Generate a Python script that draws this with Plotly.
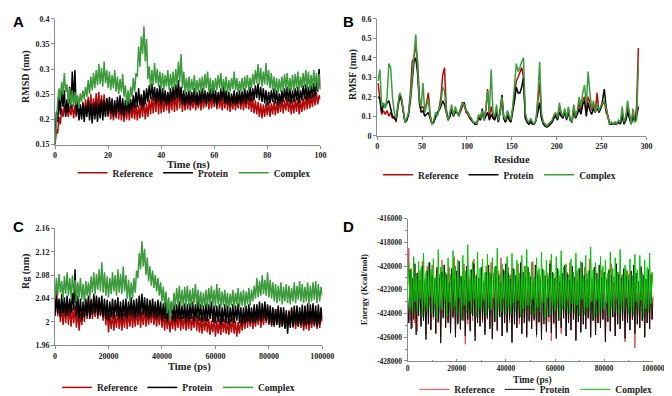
import plotly.graph_objects as go

W, H = 672, 396
SERIF = "Liberation Serif, Times New Roman, serif"
SANS = "Liberation Sans, Arial, sans-serif"

# ---------------- Panel A : RMSD (nm) vs time (ns), sampled every 0.5 ns ----------------
rmsd_time = [0.5 * i for i in range(201)]
rmsd_reference = [
    0.150, 0.180, 0.172, 0.205, 0.190, 0.222, 0.205, 0.228, 0.208, 0.225,
    0.205, 0.225, 0.208, 0.230, 0.202, 0.228, 0.205, 0.232, 0.200, 0.228,
    0.205, 0.235, 0.208, 0.240, 0.212, 0.245, 0.215, 0.250, 0.210, 0.242,
    0.215, 0.252, 0.218, 0.255, 0.212, 0.248, 0.215, 0.250, 0.208, 0.242,
    0.205, 0.238, 0.200, 0.232, 0.198, 0.228, 0.202, 0.235, 0.200, 0.230,
    0.198, 0.228, 0.195, 0.225, 0.200, 0.230, 0.198, 0.228, 0.202, 0.232,
    0.200, 0.230, 0.198, 0.228, 0.202, 0.235, 0.205, 0.238, 0.200, 0.232,
    0.205, 0.240, 0.210, 0.245, 0.212, 0.250, 0.215, 0.255, 0.210, 0.248,
    0.212, 0.245, 0.215, 0.250, 0.218, 0.252, 0.212, 0.245, 0.218, 0.255,
    0.215, 0.250, 0.218, 0.262, 0.222, 0.258, 0.215, 0.248, 0.218, 0.245,
    0.220, 0.248, 0.218, 0.245, 0.222, 0.250, 0.218, 0.245, 0.222, 0.248,
    0.218, 0.245, 0.222, 0.250, 0.225, 0.252, 0.220, 0.248, 0.222, 0.250,
    0.225, 0.250, 0.220, 0.248, 0.222, 0.245, 0.218, 0.248, 0.222, 0.252,
    0.218, 0.245, 0.215, 0.242, 0.220, 0.248, 0.218, 0.245, 0.222, 0.250,
    0.220, 0.248, 0.218, 0.245, 0.222, 0.250, 0.220, 0.245, 0.215, 0.242,
    0.212, 0.238, 0.210, 0.235, 0.205, 0.232, 0.202, 0.230, 0.205, 0.232,
    0.208, 0.235, 0.205, 0.232, 0.210, 0.238, 0.208, 0.235, 0.212, 0.240,
    0.215, 0.242, 0.212, 0.238, 0.218, 0.245, 0.215, 0.240, 0.210, 0.238,
    0.212, 0.240, 0.215, 0.245, 0.210, 0.238, 0.215, 0.242, 0.218, 0.248,
    0.220, 0.250, 0.222, 0.248, 0.225, 0.252, 0.228, 0.255, 0.230, 0.248,
    0.240]
rmsd_protein = [
    0.150, 0.215, 0.195, 0.245, 0.210, 0.262, 0.225, 0.258, 0.205, 0.240,
    0.215, 0.265, 0.222, 0.295, 0.232, 0.298, 0.210, 0.245, 0.198, 0.230,
    0.200, 0.232, 0.195, 0.228, 0.205, 0.238, 0.198, 0.230, 0.192, 0.232,
    0.200, 0.235, 0.195, 0.232, 0.202, 0.240, 0.198, 0.238, 0.205, 0.242,
    0.208, 0.245, 0.212, 0.242, 0.205, 0.238, 0.210, 0.245, 0.215, 0.248,
    0.210, 0.242, 0.205, 0.238, 0.215, 0.245, 0.212, 0.240, 0.218, 0.248,
    0.222, 0.255, 0.225, 0.262, 0.228, 0.250, 0.222, 0.258, 0.230, 0.262,
    0.235, 0.268, 0.240, 0.272, 0.238, 0.265, 0.232, 0.262, 0.235, 0.268,
    0.230, 0.262, 0.235, 0.258, 0.228, 0.255, 0.232, 0.262, 0.235, 0.265,
    0.238, 0.270, 0.242, 0.278, 0.238, 0.265, 0.230, 0.258, 0.228, 0.255,
    0.232, 0.258, 0.228, 0.255, 0.235, 0.262, 0.230, 0.255, 0.228, 0.258,
    0.232, 0.262, 0.235, 0.258, 0.230, 0.255, 0.235, 0.262, 0.238, 0.265,
    0.232, 0.258, 0.228, 0.255, 0.235, 0.262, 0.238, 0.268, 0.232, 0.258,
    0.230, 0.255, 0.228, 0.252, 0.232, 0.258, 0.228, 0.255, 0.232, 0.258,
    0.230, 0.256, 0.235, 0.262, 0.232, 0.258, 0.238, 0.265, 0.235, 0.262,
    0.238, 0.268, 0.242, 0.272, 0.238, 0.265, 0.235, 0.262, 0.232, 0.258,
    0.228, 0.255, 0.232, 0.258, 0.235, 0.262, 0.232, 0.258, 0.228, 0.252,
    0.232, 0.258, 0.235, 0.262, 0.238, 0.265, 0.235, 0.262, 0.232, 0.258,
    0.235, 0.262, 0.238, 0.265, 0.232, 0.258, 0.238, 0.268, 0.240, 0.270,
    0.238, 0.265, 0.240, 0.268, 0.242, 0.272, 0.245, 0.275, 0.255, 0.300,
    0.260]
rmsd_complex = [
    0.150, 0.205, 0.235, 0.262, 0.238, 0.275, 0.250, 0.292, 0.255, 0.270,
    0.232, 0.262, 0.228, 0.258, 0.225, 0.255, 0.230, 0.248, 0.222, 0.252,
    0.235, 0.258, 0.240, 0.265, 0.245, 0.278, 0.250, 0.285, 0.258, 0.292,
    0.262, 0.298, 0.268, 0.310, 0.270, 0.302, 0.265, 0.315, 0.272, 0.298,
    0.262, 0.295, 0.258, 0.288, 0.262, 0.298, 0.255, 0.285, 0.250, 0.280,
    0.255, 0.290, 0.245, 0.268, 0.228, 0.258, 0.232, 0.265, 0.245, 0.282,
    0.255, 0.292, 0.285, 0.345, 0.305, 0.365, 0.330, 0.385, 0.315, 0.360,
    0.280, 0.305, 0.262, 0.298, 0.268, 0.312, 0.272, 0.300, 0.265, 0.295,
    0.262, 0.292, 0.258, 0.288, 0.265, 0.298, 0.258, 0.290, 0.262, 0.295,
    0.260, 0.300, 0.268, 0.315, 0.275, 0.330, 0.262, 0.295, 0.252, 0.282,
    0.255, 0.285, 0.252, 0.280, 0.258, 0.288, 0.250, 0.278, 0.255, 0.282,
    0.258, 0.285, 0.252, 0.290, 0.262, 0.295, 0.255, 0.282, 0.250, 0.278,
    0.255, 0.282, 0.258, 0.288, 0.262, 0.292, 0.255, 0.280, 0.258, 0.285,
    0.252, 0.278, 0.255, 0.282, 0.260, 0.295, 0.258, 0.282, 0.252, 0.276,
    0.256, 0.282, 0.255, 0.285, 0.262, 0.288, 0.258, 0.282, 0.262, 0.290,
    0.268, 0.298, 0.272, 0.310, 0.270, 0.302, 0.265, 0.295, 0.270, 0.312,
    0.268, 0.298, 0.262, 0.292, 0.258, 0.285, 0.255, 0.282, 0.252, 0.280,
    0.255, 0.285, 0.258, 0.290, 0.262, 0.292, 0.255, 0.282, 0.258, 0.288,
    0.258, 0.290, 0.262, 0.295, 0.255, 0.285, 0.262, 0.292, 0.265, 0.298,
    0.262, 0.295, 0.258, 0.288, 0.262, 0.298, 0.265, 0.292, 0.258, 0.290,
    0.268]

# ---------------- Panel B : RMSF (nm) vs residue (every 2nd residue) ----------------
residues = list(range(1, 292, 2))
rmsf_reference = [
    0.27, 0.20, 0.11, 0.13, 0.11, 0.13, 0.10, 0.12, 0.09, 0.10,
    0.07, 0.14, 0.20, 0.18, 0.12, 0.07, 0.08, 0.12, 0.22, 0.38,
    0.40, 0.47, 0.38, 0.20, 0.14, 0.15, 0.12, 0.18, 0.22, 0.11,
    0.06, 0.07, 0.10, 0.11, 0.14, 0.20, 0.31, 0.35, 0.14, 0.08,
    0.10, 0.14, 0.10, 0.13, 0.12, 0.10, 0.13, 0.15, 0.16, 0.12,
    0.11, 0.09, 0.08, 0.07, 0.06, 0.06, 0.10, 0.08, 0.12, 0.08,
    0.13, 0.24, 0.10, 0.15, 0.10, 0.09, 0.13, 0.08, 0.12, 0.18,
    0.09, 0.07, 0.12, 0.09, 0.08, 0.14, 0.22, 0.28, 0.30, 0.33,
    0.35, 0.30, 0.10, 0.07, 0.06, 0.08, 0.06, 0.06, 0.08, 0.18,
    0.27, 0.10, 0.07, 0.06, 0.05, 0.06, 0.07, 0.08, 0.10, 0.11,
    0.09, 0.15, 0.11, 0.10, 0.13, 0.09, 0.14, 0.08, 0.07, 0.15,
    0.10, 0.12, 0.17, 0.13, 0.18, 0.20, 0.13, 0.20, 0.17, 0.13,
    0.16, 0.12, 0.22, 0.12, 0.14, 0.16, 0.18, 0.12, 0.10, 0.06,
    0.06, 0.06, 0.07, 0.06, 0.07, 0.07, 0.12, 0.06, 0.09, 0.15,
    0.10, 0.06, 0.12, 0.07, 0.15, 0.45]
rmsf_protein = [
    0.20, 0.19, 0.12, 0.16, 0.15, 0.17, 0.18, 0.14, 0.10, 0.09,
    0.08, 0.15, 0.21, 0.19, 0.12, 0.07, 0.08, 0.11, 0.18, 0.30,
    0.38, 0.40, 0.32, 0.17, 0.12, 0.13, 0.10, 0.11, 0.12, 0.09,
    0.06, 0.07, 0.10, 0.12, 0.13, 0.15, 0.18, 0.16, 0.12, 0.08,
    0.10, 0.13, 0.10, 0.12, 0.12, 0.11, 0.14, 0.17, 0.17, 0.13,
    0.12, 0.10, 0.08, 0.07, 0.06, 0.06, 0.10, 0.08, 0.14, 0.08,
    0.10, 0.12, 0.08, 0.11, 0.09, 0.08, 0.12, 0.07, 0.13, 0.21,
    0.09, 0.07, 0.10, 0.08, 0.07, 0.12, 0.18, 0.25, 0.22, 0.22,
    0.25, 0.30, 0.09, 0.07, 0.06, 0.07, 0.06, 0.06, 0.08, 0.12,
    0.17, 0.09, 0.06, 0.05, 0.045, 0.05, 0.06, 0.07, 0.09, 0.10,
    0.08, 0.12, 0.10, 0.09, 0.12, 0.08, 0.12, 0.08, 0.07, 0.13,
    0.09, 0.11, 0.14, 0.11, 0.16, 0.18, 0.10, 0.17, 0.13, 0.11,
    0.14, 0.12, 0.15, 0.12, 0.14, 0.18, 0.24, 0.15, 0.10, 0.06,
    0.06, 0.06, 0.06, 0.06, 0.07, 0.06, 0.10, 0.06, 0.08, 0.12,
    0.09, 0.06, 0.10, 0.07, 0.10, 0.15]
rmsf_complex = [
    0.28, 0.34, 0.15, 0.17, 0.14, 0.20, 0.37, 0.35, 0.20, 0.12,
    0.09, 0.15, 0.22, 0.20, 0.13, 0.07, 0.09, 0.12, 0.20, 0.30,
    0.40, 0.52, 0.35, 0.18, 0.15, 0.27, 0.12, 0.15, 0.19, 0.10,
    0.06, 0.08, 0.12, 0.10, 0.14, 0.17, 0.25, 0.23, 0.12, 0.08,
    0.12, 0.16, 0.10, 0.15, 0.12, 0.10, 0.14, 0.17, 0.16, 0.13,
    0.12, 0.10, 0.09, 0.07, 0.07, 0.06, 0.11, 0.09, 0.13, 0.08,
    0.14, 0.23, 0.12, 0.34, 0.12, 0.10, 0.16, 0.08, 0.12, 0.20,
    0.10, 0.08, 0.13, 0.10, 0.08, 0.15, 0.25, 0.37, 0.33, 0.35,
    0.38, 0.40, 0.12, 0.08, 0.07, 0.09, 0.07, 0.06, 0.08, 0.20,
    0.38, 0.12, 0.07, 0.06, 0.05, 0.06, 0.07, 0.08, 0.11, 0.12,
    0.09, 0.17, 0.12, 0.10, 0.14, 0.09, 0.15, 0.08, 0.07, 0.16,
    0.10, 0.13, 0.20, 0.15, 0.22, 0.26, 0.16, 0.33, 0.22, 0.14,
    0.18, 0.12, 0.16, 0.13, 0.15, 0.17, 0.18, 0.13, 0.10, 0.06,
    0.07, 0.06, 0.07, 0.06, 0.08, 0.07, 0.15, 0.07, 0.10, 0.18,
    0.11, 0.06, 0.14, 0.07, 0.08, 0.36]

# ---------------- Panel C : Rg (nm) vs time (ps), sampled every 500 ps ----------------
rg_time = [500 * i for i in range(201)]
rg_reference = [
    2.015, 2.055, 2.010, 2.035, 2.000, 2.030, 1.995, 2.028, 1.998, 2.032,
    1.995, 2.030, 1.992, 2.025, 1.998, 2.028, 1.990, 2.022, 1.985, 2.015,
    1.995, 2.028, 2.000, 2.035, 2.005, 2.038, 2.008, 2.040, 2.005, 2.035,
    2.008, 2.040, 2.005, 2.038, 2.010, 2.035, 2.002, 2.030, 1.995, 2.025,
    1.982, 2.015, 1.988, 2.018, 1.985, 2.012, 1.990, 2.020, 1.988, 2.015,
    1.985, 2.015, 1.990, 2.020, 1.988, 2.018, 1.992, 2.022, 1.990, 2.018,
    1.992, 2.020, 1.995, 2.022, 1.990, 2.018, 1.995, 2.025, 1.992, 2.020,
    1.995, 2.022, 1.998, 2.025, 1.995, 2.020, 1.992, 2.018, 1.995, 2.022,
    1.990, 2.018, 1.985, 2.015, 1.988, 2.012, 1.982, 2.010, 1.988, 2.015,
    1.985, 2.012, 1.990, 2.018, 1.985, 2.010, 1.988, 2.015, 1.985, 2.012,
    1.988, 2.015, 1.985, 2.010, 1.990, 2.018, 1.985, 2.012, 1.982, 2.008,
    1.980, 2.008, 1.985, 2.010, 1.982, 2.005, 1.978, 2.002, 1.982, 2.008,
    1.975, 2.002, 1.980, 2.005, 1.978, 2.008, 1.982, 2.005, 1.980, 2.002,
    1.978, 2.005, 1.982, 2.008, 1.980, 2.002, 1.975, 2.000, 1.980, 2.005,
    1.985, 2.010, 1.988, 2.015, 1.990, 2.018, 1.992, 2.015, 1.988, 2.012,
    1.992, 2.018, 1.995, 2.022, 1.990, 2.015, 1.995, 2.020, 1.998, 2.025,
    1.995, 2.020, 1.992, 2.018, 1.995, 2.022, 1.998, 2.025, 1.995, 2.020,
    1.992, 2.018, 1.990, 2.015, 1.992, 2.020, 1.995, 2.022, 1.990, 2.018,
    1.988, 2.015, 1.992, 2.018, 1.990, 2.015, 1.985, 2.012, 1.988, 2.015,
    1.985, 2.012, 1.990, 2.015, 1.992, 2.018, 1.988, 2.015, 1.990, 2.012,
    2.000]
rg_protein = [
    2.010, 2.045, 2.015, 2.040, 2.008, 2.048, 2.015, 2.042, 2.010, 2.045,
    2.012, 2.040, 2.015, 2.050, 2.020, 2.090, 2.010, 2.045, 2.005, 2.040,
    2.002, 2.035, 2.008, 2.040, 2.010, 2.045, 2.005, 2.038, 2.012, 2.048,
    2.015, 2.045, 2.010, 2.042, 2.012, 2.045, 2.008, 2.040, 2.005, 2.038,
    2.002, 2.035, 2.008, 2.040, 2.005, 2.038, 2.010, 2.042, 2.005, 2.035,
    2.002, 2.038, 2.008, 2.040, 2.005, 2.035, 2.010, 2.042, 2.008, 2.038,
    2.005, 2.040, 2.010, 2.045, 2.008, 2.048, 2.012, 2.042, 2.008, 2.040,
    2.005, 2.038, 2.010, 2.040, 2.008, 2.035, 2.005, 2.038, 2.008, 2.035,
    2.002, 2.032, 2.005, 2.038, 2.000, 2.030, 2.005, 2.035, 2.002, 2.030,
    2.000, 2.030, 2.005, 2.035, 2.002, 2.028, 2.005, 2.032, 2.000, 2.030,
    2.002, 2.032, 2.005, 2.035, 2.000, 2.030, 2.005, 2.038, 2.002, 2.030,
    2.000, 2.028, 2.002, 2.032, 2.000, 2.030, 2.005, 2.035, 2.000, 2.028,
    1.998, 2.028, 2.000, 2.030, 1.995, 2.025, 2.000, 2.030, 1.998, 2.028,
    1.995, 2.025, 2.000, 2.030, 1.998, 2.028, 2.002, 2.032, 1.998, 2.025,
    1.995, 2.025, 1.998, 2.028, 2.000, 2.030, 1.998, 2.025, 2.000, 2.030,
    1.998, 2.030, 2.002, 2.035, 2.000, 2.032, 2.005, 2.035, 2.002, 2.030,
    1.998, 2.028, 1.995, 2.025, 1.992, 2.022, 1.995, 2.028, 1.990, 2.025,
    1.992, 2.025, 1.988, 2.020, 1.980, 2.018, 1.990, 2.025, 1.992, 2.028,
    1.995, 2.028, 1.992, 2.025, 1.995, 2.030, 1.992, 2.028, 1.995, 2.032,
    1.995, 2.030, 1.998, 2.032, 1.995, 2.028, 1.992, 2.030, 1.995, 2.025,
    2.005]
rg_complex = [
    2.040, 2.075, 2.045, 2.082, 2.050, 2.070, 2.038, 2.078, 2.048, 2.085,
    2.045, 2.075, 2.040, 2.080, 2.050, 2.072, 2.035, 2.068, 2.042, 2.075,
    2.038, 2.065, 2.032, 2.070, 2.045, 2.068, 2.040, 2.078, 2.050, 2.085,
    2.048, 2.082, 2.055, 2.090, 2.052, 2.102, 2.050, 2.085, 2.045, 2.078,
    2.042, 2.075, 2.048, 2.085, 2.052, 2.080, 2.045, 2.090, 2.050, 2.082,
    2.048, 2.095, 2.052, 2.080, 2.040, 2.072, 2.035, 2.068, 2.040, 2.075,
    2.050, 2.088, 2.075, 2.118, 2.090, 2.138, 2.095, 2.125, 2.080, 2.110,
    2.070, 2.095, 2.062, 2.088, 2.058, 2.080, 2.052, 2.075, 2.045, 2.068,
    2.035, 2.060, 2.028, 2.052, 2.015, 2.042, 2.002, 2.035, 2.020, 2.050,
    2.025, 2.058, 2.030, 2.062, 2.028, 2.055, 2.025, 2.060, 2.030, 2.062,
    2.028, 2.055, 2.025, 2.058, 2.032, 2.065, 2.028, 2.055, 2.025, 2.052,
    2.022, 2.050, 2.028, 2.055, 2.025, 2.058, 2.030, 2.062, 2.028, 2.055,
    2.025, 2.065, 2.030, 2.058, 2.022, 2.052, 2.028, 2.055, 2.025, 2.050,
    2.022, 2.048, 2.028, 2.055, 2.025, 2.050, 2.030, 2.058, 2.025, 2.052,
    2.028, 2.055, 2.025, 2.052, 2.030, 2.058, 2.028, 2.055, 2.035, 2.062,
    2.040, 2.075, 2.042, 2.070, 2.045, 2.080, 2.048, 2.072, 2.045, 2.085,
    2.042, 2.072, 2.040, 2.068, 2.035, 2.065, 2.032, 2.062, 2.035, 2.068,
    2.030, 2.060, 2.035, 2.065, 2.032, 2.062, 2.030, 2.058, 2.035, 2.068,
    2.032, 2.062, 2.038, 2.070, 2.035, 2.065, 2.032, 2.060, 2.035, 2.068,
    2.030, 2.062, 2.035, 2.068, 2.038, 2.070, 2.032, 2.065, 2.035, 2.060,
    2.045]

# ---------------- Panel D : Energy (Kcal/mol) vs time (ps), sampled every 500 ps ----------------
energy_time = [500 * i for i in range(201)]
energy_reference = [
    -422000, -418500, -424600, -420200, -425200, -419800, -424800, -420600, -425500, -421000,
    -420400, -425000, -419600, -424400, -421100, -425800, -420000, -424700, -420800, -425300,
    -419900, -424500, -421000, -425600, -420300, -424800, -420700, -426000, -419500, -424300,
    -420600, -425100, -421200, -424600, -420100, -425700, -420900, -424400, -419200, -425900,
    -420800, -424700, -420200, -425400, -421300, -424500, -419800, -426600, -420400, -424900,
    -421000, -425300, -420500, -424600, -419400, -425800, -420700, -424400, -421100, -425000,
    -420300, -424800, -421300, -425600, -420000, -424500, -420900, -425200, -419700, -426200,
    -420600, -424700, -421000, -425500, -420400, -424300, -419300, -425900, -420800, -424600,
    -421200, -425400, -420100, -424800, -420700, -426500, -420300, -424500, -421000, -425200,
    -419800, -424900, -420600, -425700, -421200, -424400, -420000, -425800, -420500, -424700,
    -420900, -425300, -419600, -424600, -421100, -426000, -420400, -424800, -420800, -425500,
    -420200, -424500, -421300, -425600, -420600, -424700, -419500, -426300, -420900, -424900,
    -421000, -425200, -420300, -424600, -420800, -425700, -421200, -424400, -420000, -425900,
    -420500, -424800, -419700, -425400, -420900, -424500, -421100, -426100, -420400, -424700,
    -420800, -425500, -421300, -424900, -420100, -425300, -420600, -424400, -419400, -426000,
    -421000, -424600, -420200, -425800, -420700, -424800, -421200, -425200, -420300, -424500,
    -420600, -426200, -421000, -424700, -420400, -425500, -419800, -424300, -420900, -425900,
    -421200, -424900, -420500, -425300, -420800, -424600, -421100, -426400, -420300, -424800,
    -420700, -425400, -421000, -424500, -420200, -426900, -420600, -424900, -421300, -425200,
    -420000, -424600, -420800, -426000, -421100, -424800, -420300, -425300, -420700, -424500,
    -422400]
energy_protein = [
    -422500, -424800, -420300, -425300, -421000, -424500, -419800, -425800, -420600, -424200,
    -421200, -425100, -420000, -424600, -421500, -426200, -420400, -424900, -419700, -425400,
    -420800, -424300, -421300, -425700, -420100, -424700, -421000, -426500, -420500, -424400,
    -419900, -425200, -420700, -424800, -421400, -425600, -420200, -424300, -421100, -426000,
    -420400, -424900, -419600, -425300, -420900, -424600, -421200, -425900, -420000, -424500,
    -421300, -425500, -420300, -424200, -419800, -426300, -420800, -424800, -421000, -425100,
    -420100, -424600, -421500, -425800, -420500, -424400, -419900, -425300, -420700, -426100,
    -421200, -424700, -420000, -425400, -420900, -424300, -421400, -425900, -420300, -424800,
    -419800, -425600, -420600, -424500, -421100, -426400, -420200, -424900, -420800, -425200,
    -421300, -424400, -419700, -425700, -420500, -424800, -421000, -426000, -420100, -424600,
    -420900, -425300, -421400, -424500, -419900, -425800, -420700, -424700, -421200, -426200,
    -420300, -424900, -420800, -425500, -421100, -424300, -419800, -425600, -420500, -424800,
    -421000, -426100, -420200, -424600, -421300, -425200, -420600, -424400, -419900, -425900,
    -420700, -424800, -421200, -425400, -420000, -424500, -420900, -426300, -421400, -424700,
    -420200, -425600, -419700, -424900, -420800, -425300, -421100, -424400, -420400, -426000,
    -421300, -424600, -420100, -425800, -420600, -424800, -419900, -425200, -421000, -424500,
    -420500, -426400, -421200, -424700, -420300, -425500, -420800, -424300, -421400, -425900,
    -419800, -424900, -420700, -425300, -421000, -424600, -420200, -426100, -420900, -424800,
    -421200, -425400, -420400, -424500, -419900, -425700, -420600, -424900, -421300, -425200,
    -420100, -424600, -420800, -426000, -421100, -424800, -420300, -425300, -420700, -424500,
    -422600]
energy_complex = [
    -421500, -419800, -423600, -420400, -424100, -419200, -423000, -420800, -423900, -419600,
    -422800, -420200, -424300, -418900, -423400, -420600, -423800, -419700, -422600, -420300,
    -424000, -419400, -423200, -420900, -424400, -418600, -423500, -420100, -423700, -419900,
    -422900, -420500, -424200, -419300, -423100, -420700, -423800, -418700, -423400, -420000,
    -424100, -419500, -422700, -420800, -424500, -419100, -423300, -420400, -423900, -418200,
    -423000, -420300, -424000, -419600, -422800, -420900, -424300, -418800, -423600, -420200,
    -423800, -419400, -422900, -420600, -424200, -419000, -423500, -420500, -423700, -419300,
    -422700, -420100, -424400, -418500, -423200, -420700, -423900, -419800, -422800, -420400,
    -424100, -419200, -423400, -420800, -424000, -418900, -423100, -420300, -423800, -419500,
    -422900, -420600, -424300, -419100, -423600, -420000, -423700, -418600, -423300, -420500,
    -424000, -419700, -422800, -420900, -424200, -419300, -423500, -420200, -423900, -418800,
    -423100, -420400, -424400, -419500, -422700, -420800, -424100, -419000, -423400, -420600,
    -423800, -419200, -423000, -420300, -424300, -418700, -423600, -420100, -423700, -419800,
    -422900, -420700, -424000, -419400, -423200, -420500, -423900, -418900, -423300, -420200,
    -424200, -419600, -422800, -420800, -424100, -419100, -423500, -420400, -423800, -418400,
    -423000, -420300, -424400, -419700, -422900, -420900, -424000, -419200, -423600, -420000,
    -423700, -419500, -423100, -420600, -424300, -418800, -423400, -420200, -423900, -419300,
    -422800, -420500, -424100, -418600, -423300, -420700, -423800, -419900, -422700, -420400,
    -424000, -419400, -423500, -420800, -424200, -419000, -423000, -420300, -423700, -419100,
    -422900, -420600, -424300, -419500, -423600, -420100, -423900, -418900, -423200, -420500,
    -421800]
energy_ticks = list(range(-428000, -415999, 2000))

series_names = ["Reference", "Protein", "Complex"]
colors_abc = ["#b10c0c", "#000000", "#3d9b3d"]
colors_d = ["#e04848", "#111111", "#00c400"]


def xd(a, b):
    return [a / W, b / W]


def yd(top, bottom):
    return [1 - bottom / H, 1 - top / H]


fig = go.Figure()

panels = [
    ("x", "y", "legend", rmsd_time, [rmsd_reference, rmsd_protein, rmsd_complex], colors_abc, 1.5),
    ("x2", "y2", "legend2", residues, [rmsf_reference, rmsf_protein, rmsf_complex], colors_abc, 1.5),
    ("x3", "y3", "legend3", rg_time, [rg_reference, rg_protein, rg_complex], colors_abc, 1.5),
    ("x4", "y4", "legend4", energy_time, [energy_reference, energy_protein, energy_complex], colors_d, 1.0),
]
for xa, ya, lg, xs, ys_list, cols, lw in panels:
    for name, ys, col in zip(series_names, ys_list, cols):
        fig.add_trace(go.Scatter(
            x=xs, y=ys, mode="lines", name=name, xaxis=xa, yaxis=ya, legend=lg,
            line=dict(color=col, width=lw), hoverinfo="skip"))

tickfont = dict(family=SERIF, size=8, color="#222222", weight="bold")
axis_common = dict(showline=True, linecolor="#8a8a8a", linewidth=1, ticks="outside",
                   tickcolor="#8a8a8a", ticklen=3, showgrid=False, zeroline=False,
                   tickfont=tickfont, fixedrange=True)

legend_common = dict(orientation="h", xanchor="center", yanchor="middle",
                     bgcolor="rgba(0,0,0,0)", itemwidth=30,
                     font=dict(family=SERIF, size=9.5, color="#222222", weight="bold"))


def ann(text, x, y, size, angle=0, family=SERIF, color="#222222"):
    return dict(text=text, x=x / W, y=1 - y / H, xref="paper", yref="paper",
                showarrow=False, textangle=angle, xanchor="center", yanchor="middle",
                font=dict(family=family, size=size, color=color, weight="bold"))


fig.update_layout(
    width=W, height=H, autosize=False,
    margin=dict(l=0, r=0, t=0, b=0),
    paper_bgcolor="white", plot_bgcolor="white",
    xaxis=dict(axis_common, domain=xd(46, 317), range=[0, 100], dtick=20, anchor="y"),
    yaxis=dict(axis_common, domain=yd(7, 136), range=[0.15, 0.4], dtick=0.05, anchor="x"),
    xaxis2=dict(axis_common, domain=xd(375, 650), range=[0, 300], dtick=50, anchor="y2"),
    yaxis2=dict(axis_common, domain=yd(7, 127), range=[0, 0.6], dtick=0.1, anchor="x2"),
    xaxis3=dict(axis_common, domain=xd(46, 319), range=[0, 100000], dtick=20000,
                tickformat="d", anchor="y3"),
    yaxis3=dict(axis_common, domain=yd(222, 342), range=[1.96, 2.16], tick0=1.96,
                dtick=0.04, anchor="x3"),
    xaxis4=dict(axis_common, domain=xd(406, 657), range=[0, 100000], dtick=20000,
                tickformat="d", anchor="y4", ticks="inside", ticklen=2,
                tickfont=dict(tickfont, size=7.5),
                minor=dict(ticks="inside", ticklen=1, tickcolor="#8a8a8a",
                           tickmode="linear", tick0=0, dtick=10000)),
    yaxis4=dict(axis_common, domain=yd(212, 358), range=[-428000, -416000],
                tickmode="array", tickvals=energy_ticks,
                ticktext=[str(v) for v in energy_ticks], anchor="x4",
                tickfont=dict(tickfont, size=7.5),
                minor=dict(ticks="outside", ticklen=2, tickcolor="#8a8a8a",
                           tickmode="linear", tick0=-428000, dtick=1000)),
    legend=dict(legend_common, x=188 / W, y=1 - 165 / H),
    legend2=dict(legend_common, x=500 / W, y=1 - 167 / H),
    legend3=dict(legend_common, x=172 / W, y=-4 / H, yanchor="bottom"),
    legend4=dict(legend_common, x=537 / W, y=-6 / H, yanchor="bottom"),
    annotations=[
        ann("A", 9, 10, 15, family=SANS, color="#000000"),
        ann("B", 346, 10, 15, family=SANS, color="#000000"),
        ann("C", 9, 220, 15, family=SANS, color="#000000"),
        ann("D", 346, 220, 15, family=SANS, color="#000000"),
        ann("Time (ns)", 182, 157, 10.5),
        ann("RMSD (nm)", 17, 66, 10, angle=-90),
        ann("Residue", 513, 151, 10.5),
        ann("RMSF (nm)", 351, 64, 10, angle=-90),
        ann("Time (ps)", 183, 364, 10.5),
        ann("Rg (nm)", 17, 266, 10, angle=-90),
        ann("Time (ps)", 534, 378, 9.5),
        ann("Energy (Kcal/mol)", 361, 285, 9, angle=-90),
    ],
)

fig.write_html("out.html", config={"displayModeBar": False})
